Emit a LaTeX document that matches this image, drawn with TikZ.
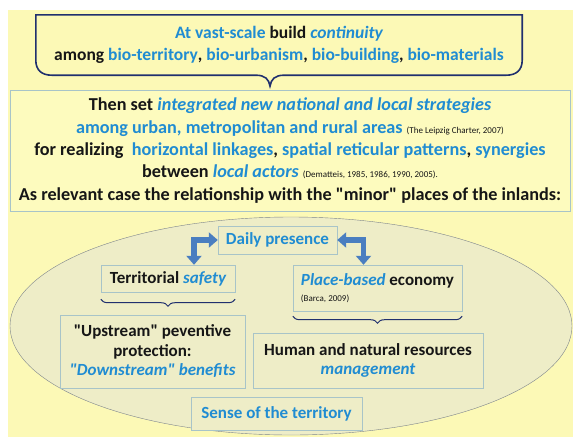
\documentclass[tikz,border=0pt]{standalone}
\usepackage{fontspec}
\setmainfont{Carlito}[Ligatures=TeXOff]
\usetikzlibrary{shapes,arrows.meta,positioning,calc,decorations.pathreplacing}
\definecolor{bgyellow}{RGB}{252,249,182}
\definecolor{boxfill}{RGB}{253,251,190}
\definecolor{ovalfill}{RGB}{238,237,199}
\definecolor{ovalline}{RGB}{125,132,140}
\definecolor{boxline}{RGB}{168,196,200}
\definecolor{textblue}{RGB}{32,140,210}
\definecolor{arrowblue}{RGB}{74,126,192}
\definecolor{navy}{RGB}{32,48,110}
\definecolor{ink}{RGB}{22,22,22}
\newcommand{\hl}[1]{\textcolor{textblue}{#1}}
\newcommand{\hli}[1]{\textcolor{textblue}{\itshape #1}}
\newcommand{\refnote}[1]{{\mdseries\fontsize{9}{10}\selectfont #1}}
\tikzstyle{bigbox} = [rectangle, draw=boxline, fill=boxfill, text=ink, align=center, font=\bfseries\fontsize{18.2}{22.3}\selectfont]
\tikzstyle{smallbox} = [rectangle, draw=boxline, fill=ovalfill, text=ink, align=center, inner sep=2pt, font=\bfseries\fontsize{17}{19.5}\selectfont]
\tikzstyle{callout} = [draw=navy, line width=1.6pt, fill=bgyellow]
\tikzstyle{blockarrow} = [draw=arrowblue, line width=5.5pt, {Triangle[width=15pt,length=9pt]}-{Triangle[width=15pt,length=9pt]}]
\tikzstyle{curly} = [draw=navy, line width=1pt, decorate, decoration={brace, amplitude=7pt}]

\begin{document}
\begin{tikzpicture}[x=1pt, y=-1pt]
    \useasboundingbox (0,0) rectangle (573,437);
    \fill[bgyellow] (8,10) rectangle (573,437);

    % strategies
    \node[bigbox, minimum width=560pt, minimum height=121pt] (strategy) at (290,150.5) {%
        Then set \hli{integrated new national and local strategies}\\
        \hl{among urban, metropolitan and rural areas} \refnote{(The Leipzig Charter, 2007)}\\
        for realizing \ \hl{horizontal linkages}, \hl{spatial reticular patterns}, \hl{synergies}\\
        between \hli{local actors} \refnote{(Dematteis, 1985, 1986, 1990, 2005).}\\
        As relevant case the relationship with the "minor" places of the inlands:};

    % continuity callout
    \node[minimum width=486pt, minimum height=60pt] (vast) at (279,45) {};
    \draw[callout] (vast.north west) -- (vast.north east)
        -- ($(vast.south east)+(0,-15)$)
        .. controls ($(vast.south east)+(0,-5)$) and ($(vast.south east)+(-6,0)$) .. ($(vast.south east)+(-16,0)$)
        -- ($(vast.south)+(5,0)$)
        .. controls ($(vast.south)+(-4,0)$) and ($(vast.south)+(-8,4)$) .. ($(vast.south)+(-9,11)$)
        .. controls ($(vast.south)+(-10,4)$) and ($(vast.south)+(-14,0)$) .. ($(vast.south)+(-23,0)$)
        -- ($(vast.south west)+(16,0)$)
        .. controls ($(vast.south west)+(6,0)$) and ($(vast.south west)+(0,-5)$) .. ($(vast.south west)+(0,-15)$)
        -- cycle;
    \node[text=ink, align=center, font=\bfseries\fontsize{17.5}{22}\selectfont] (vasttext) at (vast) {%
        \hl{At vast-scale} build \hli{continuity}\\
        among \hl{bio-territory}, \hl{bio-urbanism}, \hl{bio-building}, \hl{bio-materials}};

    % inlands
    \node[ellipse, draw=ovalline, fill=ovalfill, minimum width=562pt, minimum height=218pt] (oval) at (291,326) {};

    \node[smallbox, minimum width=119pt, minimum height=28pt] (daily) at (277.5,240) {\hl{Daily presence}};
    \node[smallbox, minimum width=134pt, minimum height=27pt] (safety) at (168,278.5) {Territorial \hli{safety}};
    \node[smallbox, minimum width=169pt, minimum height=46pt, align=left] (place) at (377.5,288) {\hli{Place-based} economy\\[-3pt]\refnote{(Barca, 2009)}};
    \node[smallbox, minimum width=185pt, minimum height=73pt] (upstream) at (152.5,351.5) {"Upstream" peventive\\protection:\\\hli{"Downstream" benefits}};
    \node[smallbox, minimum width=230pt, minimum height=55pt] (human) at (368,360.5) {Human and natural resources\\\hli{management}};
    \node[smallbox, minimum width=171pt, minimum height=33pt] (sense) at (276.5,413.5) {\hl{Sense of the territory}};

    \draw[blockarrow] (daily.west) -| ([xshift=26pt]safety.north);
    \draw[blockarrow] (daily.east) -| ([xshift=-14pt]place.north);

    \draw[curly] ([yshift=-7pt]safety.south east) -- ([yshift=-7pt]safety.south west);
    \draw[curly] ([yshift=-5pt]place.south east) -- ([yshift=-5pt]place.south west);
\end{tikzpicture}
\end{document}
